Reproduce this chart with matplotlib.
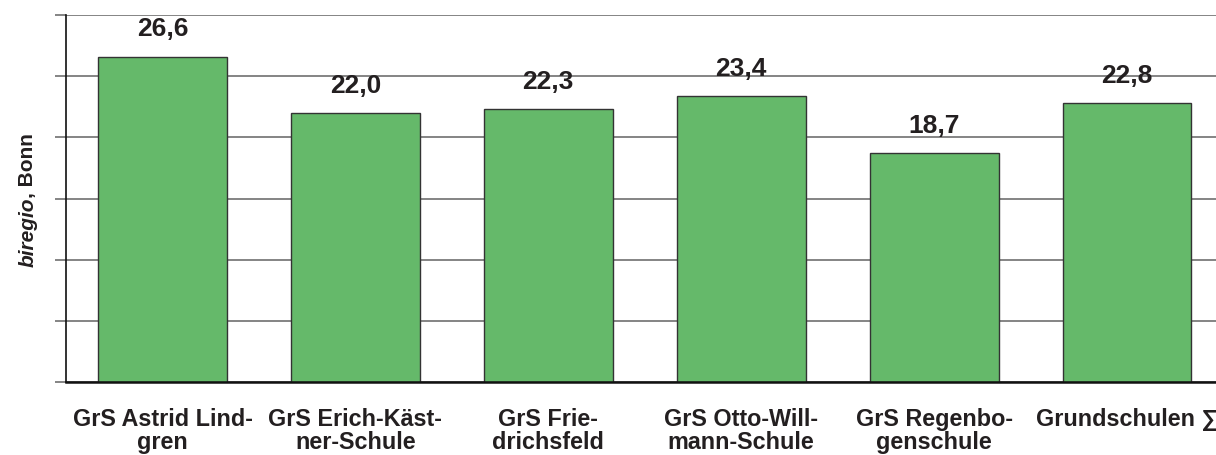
import matplotlib.pyplot as plt
import numpy as np

plt.rcParams["font.family"] = ["Liberation Sans", "DejaVu Sans"]

# Werte je Schule
schulen = [
    "GrS Astrid Lind-\ngren",
    "GrS Erich-Käst-\nner-Schule",
    "GrS Frie-\ndrichsfeld",
    "GrS Otto-Will-\nmann-Schule",
    "GrS Regenbo-\ngenschule",
    "Grundschulen \u2211",
]
werte = [26.6, 22.0, 22.3, 23.4, 18.7, 22.8]
y_ticks = [0, 5, 10, 15, 20, 25, 30]

fig = plt.figure(figsize=(12.16, 4.55), dpi=100)
# rechter Rand ragt etwas über das Bild hinaus
ax = fig.add_axes([66 / 1216, 1 - 382 / 455, (1223.5 - 66) / 1216, 367 / 455])

x = np.arange(len(werte))
ax.bar(x, werte, width=0.668, color="#65b96a", edgecolor="#333333", linewidth=1.0, zorder=3)

for xi, v in zip(x, werte):
    ax.annotate(f"{v:.1f}".replace(".", ","), (xi, v), xytext=(0, 14.5), textcoords="offset points",
                ha="center", va="baseline", fontsize=19, fontweight="bold", color="#231f20", zorder=4)

ax.set_xlim(-0.5, len(werte) - 0.5)
ax.set_ylim(0, 30)
ax.set_yticks(y_ticks)
ax.set_yticklabels([])
ax.yaxis.grid(True, color="#6f6f6f", linewidth=1.2, zorder=0)
ax.tick_params(axis="y", length=8, width=1.2, color="#6f6f6f", direction="out")
ax.tick_params(axis="x", length=0, pad=19)
ax.set_xticks(x)
ax.set_xticklabels(schulen, fontsize=16.8, fontweight="bold", color="#231f20", linespacing=1.0)

for s in ["top", "right"]:
    ax.spines[s].set_visible(False)
ax.spines["left"].set_color("#111111")
ax.spines["left"].set_linewidth(1.2)
ax.spines["bottom"].set_color("#111111")
ax.spines["bottom"].set_linewidth(1.8)
ax.spines["bottom"].set_zorder(5)

# Achsentitel: "biregio" kursiv, Rest normal fett
fig.canvas.draw()
t1 = fig.text(28 / 1216, 1 - 267 / 455, "biregio", rotation=90, ha="center", va="bottom",
              fontsize=15, fontweight="bold", fontstyle="italic", color="#231f20")
fig.canvas.draw()
bb = t1.get_window_extent().transformed(fig.transFigure.inverted())
fig.text(28 / 1216, bb.y1, ", Bonn", rotation=90, ha="center", va="bottom",
         fontsize=15, fontweight="bold", color="#231f20")

fig.savefig("out.png", dpi=100)
